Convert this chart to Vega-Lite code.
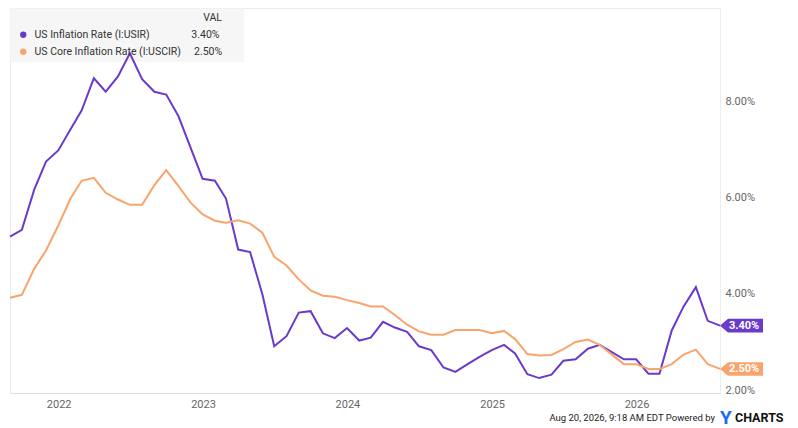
{
  "$schema": "https://vega.github.io/schema/vega-lite/v6.json",
  "width": 710,
  "height": 385,
  "autosize": "none",
  "padding": {"left": 10, "top": 8, "right": 78, "bottom": 35},
  "background": "white",
  "datasets": {
    "cpi": [
      {"date": "2021-08-31", "USIR": 5.25, "USCIR": 3.98},
      {"date": "2021-09-30", "USIR": 5.39, "USCIR": 4.04},
      {"date": "2021-10-31", "USIR": 6.22, "USCIR": 4.58},
      {"date": "2021-11-30", "USIR": 6.81, "USCIR": 4.96},
      {"date": "2021-12-31", "USIR": 7.04, "USCIR": 5.48},
      {"date": "2022-01-31", "USIR": 7.48, "USCIR": 6.04},
      {"date": "2022-02-28", "USIR": 7.87, "USCIR": 6.41},
      {"date": "2022-03-31", "USIR": 8.54, "USCIR": 6.47},
      {"date": "2022-04-30", "USIR": 8.26, "USCIR": 6.16},
      {"date": "2022-05-31", "USIR": 8.58, "USCIR": 6.02},
      {"date": "2022-06-30", "USIR": 9.06, "USCIR": 5.91},
      {"date": "2022-07-31", "USIR": 8.52, "USCIR": 5.91},
      {"date": "2022-08-31", "USIR": 8.26, "USCIR": 6.32},
      {"date": "2022-09-30", "USIR": 8.2, "USCIR": 6.63},
      {"date": "2022-10-31", "USIR": 7.75, "USCIR": 6.3},
      {"date": "2022-11-30", "USIR": 7.11, "USCIR": 5.96},
      {"date": "2022-12-31", "USIR": 6.45, "USCIR": 5.71},
      {"date": "2023-01-31", "USIR": 6.41, "USCIR": 5.58},
      {"date": "2023-02-28", "USIR": 6.04, "USCIR": 5.54},
      {"date": "2023-03-31", "USIR": 4.98, "USCIR": 5.59},
      {"date": "2023-04-30", "USIR": 4.93, "USCIR": 5.52},
      {"date": "2023-05-31", "USIR": 4.05, "USCIR": 5.33},
      {"date": "2023-06-30", "USIR": 2.97, "USCIR": 4.83},
      {"date": "2023-07-31", "USIR": 3.18, "USCIR": 4.65},
      {"date": "2023-08-31", "USIR": 3.67, "USCIR": 4.36},
      {"date": "2023-09-30", "USIR": 3.7, "USCIR": 4.13},
      {"date": "2023-10-31", "USIR": 3.24, "USCIR": 4.02},
      {"date": "2023-11-30", "USIR": 3.14, "USCIR": 4.0},
      {"date": "2023-12-31", "USIR": 3.35, "USCIR": 3.93},
      {"date": "2024-01-31", "USIR": 3.09, "USCIR": 3.87},
      {"date": "2024-02-29", "USIR": 3.15, "USCIR": 3.8},
      {"date": "2024-03-31", "USIR": 3.48, "USCIR": 3.8},
      {"date": "2024-04-30", "USIR": 3.36, "USCIR": 3.62},
      {"date": "2024-05-31", "USIR": 3.27, "USCIR": 3.42},
      {"date": "2024-06-30", "USIR": 2.97, "USCIR": 3.28},
      {"date": "2024-07-31", "USIR": 2.89, "USCIR": 3.21},
      {"date": "2024-08-31", "USIR": 2.53, "USCIR": 3.21},
      {"date": "2024-09-30", "USIR": 2.44, "USCIR": 3.31},
      {"date": "2024-10-31", "USIR": 2.6, "USCIR": 3.31},
      {"date": "2024-11-30", "USIR": 2.75, "USCIR": 3.31},
      {"date": "2024-12-31", "USIR": 2.89, "USCIR": 3.24},
      {"date": "2025-01-31", "USIR": 3.0, "USCIR": 3.29},
      {"date": "2025-02-28", "USIR": 2.82, "USCIR": 3.12},
      {"date": "2025-03-31", "USIR": 2.39, "USCIR": 2.81},
      {"date": "2025-04-30", "USIR": 2.31, "USCIR": 2.78},
      {"date": "2025-05-31", "USIR": 2.38, "USCIR": 2.79},
      {"date": "2025-06-30", "USIR": 2.67, "USCIR": 2.91},
      {"date": "2025-07-31", "USIR": 2.7, "USCIR": 3.06},
      {"date": "2025-08-31", "USIR": 2.92, "USCIR": 3.11},
      {"date": "2025-09-30", "USIR": 3.0, "USCIR": 3.0},
      {"date": "2025-11-30", "USIR": 2.7, "USCIR": 2.6},
      {"date": "2025-12-31", "USIR": 2.7, "USCIR": 2.6},
      {"date": "2026-01-31", "USIR": 2.4, "USCIR": 2.5},
      {"date": "2026-02-28", "USIR": 2.4, "USCIR": 2.5},
      {"date": "2026-03-31", "USIR": 3.3, "USCIR": 2.6},
      {"date": "2026-04-30", "USIR": 3.8, "USCIR": 2.8},
      {"date": "2026-05-31", "USIR": 4.2, "USCIR": 2.9},
      {"date": "2026-06-30", "USIR": 3.5, "USCIR": 2.6},
      {"date": "2026-07-31", "USIR": 3.4, "USCIR": 2.5}
    ]
  },
  "layer": [
    {
      "data": {"values": [{}]},
      "mark": {"type": "rect", "color": "#f3f3f3", "opacity": 0.75},
      "encoding": {
        "x": {"datum": {"year": 2021, "month": 8, "date": 31}, "type": "temporal"},
        "x2": {"datum": {"year": 2023, "month": 4, "date": 15}},
        "y": {"datum": 10, "type": "quantitative"},
        "y2": {"datum": 8.88}
      }
    },
    {
      "data": {"name": "cpi"},
      "transform": [
        {"fold": ["USIR", "USCIR"], "as": ["series", "value"]}
      ],
      "encoding": {
        "x": {
          "field": "date",
          "type": "temporal",
          "scale": {"nice": false},
          "axis": {
            "title": null,
            "format": "%Y",
            "tickCount": "year",
            "ticks": false,
            "domain": true,
            "domainColor": "#dddddd",
            "gridColor": "#f0f0f0",
            "labelColor": "#666666",
            "labelFontSize": 11,
            "labelPadding": 5
          }
        },
        "y": {
          "field": "value",
          "type": "quantitative",
          "scale": {"domain": [2, 10], "nice": false, "zero": false},
          "axis": {
            "orient": "right",
            "title": null,
            "values": [2, 4, 6, 8],
            "labelExpr": "format(datum.value, '.2f') + '%'",
            "ticks": false,
            "domain": false,
            "gridColor": "#f0f0f0",
            "labelColor": "#666666",
            "labelFontSize": 11,
            "labelPadding": 5,
            "labelBaseline": "alphabetic"
          }
        },
        "color": {
          "field": "series",
          "type": "nominal",
          "scale": {"domain": ["USIR", "USCIR"], "range": ["#6a3acd", "#f8a46c"]},
          "legend": {
            "title": "VAL\u00a0\u00a0\u00a0\u00a0\u00a0\u00a0\u00a0",
            "orient": "top-left",
            "offset": 0,
            "padding": 5,
            "symbolType": "circle",
            "symbolSize": 40,
            "symbolOffset": 3,
            "labelOffset": 6,
            "symbolStrokeWidth": 0,
            "titleAnchor": "end",
            "titleFontWeight": "normal",
            "titleFontSize": 10.5,
            "titleColor": "#333333",
            "titlePadding": 6,
            "labelFontSize": 10.5,
            "labelColor": "#333333",
            "labelLimit": 400,
            "rowPadding": 6,
            "labelExpr": "datum.label == 'USIR' ? 'US Inflation Rate (I:USIR)\u00a0\u00a0\u00a0\u00a0\u00a0\u00a0\u00a0\u00a0\u00a0\u00a0\u00a0\u00a0\u00a0\u00a0\u00a0\u00a03.40%\u00a0\u00a0\u00a0\u00a0\u00a0\u00a0\u00a0' : 'US Core Inflation Rate (I:USCIR)\u00a0\u00a0\u00a0\u00a0\u00a02.50%\u00a0\u00a0\u00a0\u00a0\u00a0\u00a0\u00a0'",
            "encode": {
              "symbols": {
                "update": {
                  "fill": {"scale": "color", "field": "value"},
                  "strokeWidth": {"value": 0}
                }
              }
            }
          }
        }
      },
      "layer": [
        {
          "mark": {"type": "line", "strokeWidth": 2}
        },
        {
          "transform": [
            {"filter": {"field": "date", "timeUnit": "yearmonth", "equal": {"year": 2026, "month": 7}}}
          ],
          "mark": {
            "type": "point",
            "filled": true,
            "opacity": 1,
            "size": 400,
            "shape": "M0,0L0.8,-0.68L4.3,-0.68L4.3,0.68L0.8,0.68Z"
          }
        },
        {
          "transform": [
            {"filter": {"field": "date", "timeUnit": "yearmonth", "equal": {"year": 2026, "month": 7}}},
            {"calculate": "format(datum.value, '.2f') + '%'", "as": "tag"}
          ],
          "mark": {
            "type": "text",
            "align": "left",
            "baseline": "middle",
            "dx": 9,
            "dy": 0.5,
            "fontWeight": "bold",
            "fontSize": 11
          },
          "encoding": {
            "text": {"field": "tag"},
            "color": {"value": "white"}
          }
        }
      ]
    },
    {
      "data": {"values": [{}]},
      "mark": {"type": "text", "align": "right", "baseline": "middle", "dx": -5, "dy": 25, "fontSize": 9.5, "color": "#222222"},
      "encoding": {
        "x": {"datum": {"year": 2026, "month": 7, "date": 31}, "type": "temporal"},
        "y": {"datum": 2, "type": "quantitative"},
        "text": {"value": "Aug 20, 2026, 9:18 AM EDT Powered by"}
      }
    },
    {
      "data": {"values": [{}]},
      "mark": {"type": "text", "align": "left", "baseline": "middle", "dx": 0, "dy": 25, "fontSize": 19, "fontWeight": "bold", "color": "#1c6ef2"},
      "encoding": {
        "x": {"datum": {"year": 2026, "month": 7, "date": 31}, "type": "temporal"},
        "y": {"datum": 2, "type": "quantitative"},
        "text": {"value": "Y"}
      }
    },
    {
      "data": {"values": [{}]},
      "mark": {"type": "text", "align": "left", "baseline": "middle", "dx": 15, "dy": 25, "fontSize": 12.5, "fontWeight": "bold", "color": "#111111"},
      "encoding": {
        "x": {"datum": {"year": 2026, "month": 7, "date": 31}, "type": "temporal"},
        "y": {"datum": 2, "type": "quantitative"},
        "text": {"value": "CHARTS"}
      }
    }
  ],
  "config": {
    "font": "Roboto",
    "view": {"stroke": "#ececec"}
  }
}
